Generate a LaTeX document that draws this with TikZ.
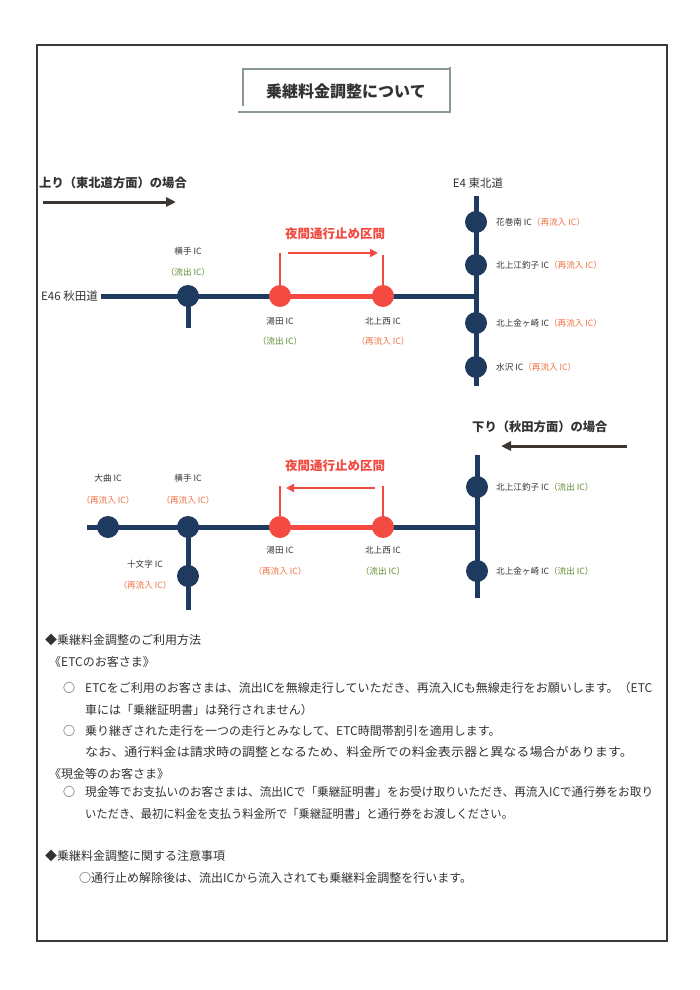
\documentclass[tikz,border=0pt]{standalone}
\usepackage{fontspec}
\usepackage{graphicx}
\usetikzlibrary{arrows.meta,backgrounds}
\newfontfamily\jp{Noto Sans CJK JP}
\definecolor{navy}{HTML}{1F3A5F}
\definecolor{redc}{HTML}{F34A42}
\definecolor{orangec}{HTML}{F0703F}
\definecolor{greenc}{HTML}{5B8C2A}
\definecolor{darkt}{HTML}{333333}
\definecolor{brownc}{HTML}{3B3632}
\definecolor{framec}{HTML}{3A3A3A}
\definecolor{titlec}{HTML}{8A9A90}
\begin{document}
\begin{tikzpicture}[x=1pt,y=-1pt,
  road/.style={line width=5pt, navy},
  redroad/.style={line width=5pt, redc},
  ic/.style={circle, fill=navy, minimum size=22pt, inner sep=0pt},
  icr/.style={circle, fill=redc, minimum size=22pt, inner sep=0pt},
  lbl/.style={font=\jp\fontsize{8.6}{10}\selectfont, text=darkt, inner sep=0pt},
  lblg/.style={lbl, text=greenc},
  lblo/.style={lbl, text=orangec},
  redtick/.style={line width=2.5pt, redc},
  redarrow/.style={line width=2.5pt, redc, -{Triangle[length=8pt,width=8pt]}},
  dirarrow/.style={line width=3pt, brownc, -{Triangle[length=10pt,width=9pt]}},
  head/.style={font=\jp\bfseries\fontsize{12.3}{14}\selectfont, text=darkt, inner sep=0pt},
  redhead/.style={font=\jp\bfseries\fontsize{12.5}{14}\selectfont, text=redc, inner sep=0pt},
  road label/.style={font=\jp\fontsize{11.5}{13}\selectfont, text=darkt, inner sep=0pt},
  body/.style={font=\jp\fontsize{12}{14}\selectfont, text=darkt, inner sep=0pt, anchor=west}
]
\useasboundingbox (0,0) rectangle (700,990);
\begin{pgfonlayer}{background}
\fill[white] (0,0) rectangle (700,990);
\end{pgfonlayer}
% frame
\draw[line width=2pt, framec] (37,45) rectangle (667,941);
% title
\draw[titlec, line width=1.5pt] (450,69) -- (243,69) -- (243,106);
\draw[titlec, line width=2.5pt] (450,67) -- (450,112) -- (238,112);
\node[font=\jp\bfseries\fontsize{16}{18}\selectfont, text=darkt] (title) at (346,91) {乗継料金調整について};

% ===== upper diagram =====
\node[head, anchor=west] (uphead) at (39,183) {上り（東北道方面）の場合};
\coordinate (ua1) at (43,202);
\coordinate (ua2) at (176,202);
\draw[dirarrow] (ua1) -- (ua2);

\coordinate (u_w) at (101,296);
\coordinate (u_j) at (476,296);
\coordinate (u_top) at (476,196);
\coordinate (u_bot) at (476,386);
\coordinate (u_ys) at (188,328);
\node[ic] (u_yokote) at (188,296) {};
\node[icr] (u_yuda) at (280,296) {};
\node[icr] (u_kn) at (383,296) {};
\node[ic] (u_hanamaki) at (476,222) {};
\node[ic] (u_esashi) at (476,265) {};
\node[ic] (u_kanegasaki) at (476,323) {};
\node[ic] (u_mizusawa) at (476,367) {};
\begin{pgfonlayer}{background}
\draw[road] (u_w) -- (u_yokote.center) -- (u_yuda.center);
\draw[road] (u_yokote.center) -- (u_ys);
\draw[redroad] (u_yuda.center) -- (u_kn.center);
\draw[road] (u_kn.center) -- (u_j);
\draw[road] (u_top) -- (u_bot);
\end{pgfonlayer}
\coordinate (u_t1) at (280,253);
\coordinate (u_t2) at (383,255);
\begin{pgfonlayer}{background}
\draw[redtick] (u_yuda.center) -- (u_t1);
\draw[redtick] (u_kn.center) -- (u_t2);
\end{pgfonlayer}
\coordinate (u_r1) at (288,253);
\coordinate (u_r2) at (378,253);
\draw[redarrow] (u_r1) -- (u_r2);
\node[redhead] (u_night) at (335,234) {夜間通行止め区間};

\node[road label] (u_e4) at (478,183) {E4 東北道};
\node[road label, anchor=east] (u_e46) at (98,296) {E46 秋田道};
\node[lbl] (u_l1) at (188,251) {横手 IC};
\node[lblg] (u_l1b) at (188,272) {（流出 IC）};
\node[lbl] (u_l2) at (280,321) {湯田 IC};
\node[lblg] (u_l2b) at (280,341) {（流出 IC）};
\node[lbl] (u_l3) at (383,321) {北上西 IC};
\node[lblo] (u_l3b) at (383,341) {（再流入 IC）};
\node[lbl, anchor=west] (u_r_1) at (496,222) {花巻南 IC\textcolor{orangec}{（再流入 IC）}};
\node[lbl, anchor=west] (u_r_2) at (496,265) {北上江釣子 IC\textcolor{orangec}{（再流入 IC）}};
\node[lbl, anchor=west] (u_r_3) at (496,323) {北上金ヶ崎 IC\textcolor{orangec}{（再流入 IC）}};
\node[lbl, anchor=west] (u_r_4) at (496,367) {水沢 IC\textcolor{orangec}{（再流入 IC）}};

% ===== lower diagram =====
\node[head, anchor=west] (dnhead) at (472,427) {下り（秋田方面）の場合};
\coordinate (da1) at (627,446);
\coordinate (da2) at (501,446);
\draw[dirarrow] (da1) -- (da2);

\coordinate (l_w) at (87,527);
\coordinate (l_j) at (477,527);
\coordinate (l_top) at (477,455);
\coordinate (l_bot) at (477,598);
\coordinate (l_ys) at (188,610);
\node[ic] (l_omagari) at (108,527) {};
\node[ic] (l_yokote) at (188,527) {};
\node[ic] (l_jumonji) at (188,576) {};
\node[icr] (l_yuda) at (280,527) {};
\node[icr] (l_kn) at (383,527) {};
\node[ic] (l_esashi) at (477,487) {};
\node[ic] (l_kanegasaki) at (477,571) {};
\begin{pgfonlayer}{background}
\draw[road] (l_w) -- (l_omagari.center) -- (l_yokote.center) -- (l_yuda.center);
\draw[road] (l_yokote.center) -- (l_jumonji.center) -- (l_ys);
\draw[redroad] (l_yuda.center) -- (l_kn.center);
\draw[road] (l_kn.center) -- (l_j);
\draw[road] (l_top) -- (l_bot);
\end{pgfonlayer}
\coordinate (l_t1) at (280,486);
\coordinate (l_t2) at (383,486);
\begin{pgfonlayer}{background}
\draw[redtick] (l_yuda.center) -- (l_t1);
\draw[redtick] (l_kn.center) -- (l_t2);
\end{pgfonlayer}
\coordinate (l_r1) at (375,488);
\coordinate (l_r2) at (286,488);
\draw[redarrow] (l_r1) -- (l_r2);
\node[redhead] (l_night) at (335,466) {夜間通行止め区間};

\node[lbl] (l_l1) at (108,478) {大曲 IC};
\node[lblo] (l_l1b) at (108,500) {（再流入 IC）};
\node[lbl] (l_l2) at (188,478) {横手 IC};
\node[lblo] (l_l2b) at (188,500) {（再流入 IC）};
\node[lbl] (l_l3) at (145,564) {十文字 IC};
\node[lblo] (l_l3b) at (145,585) {（再流入 IC）};
\node[lbl] (l_l4) at (280,550) {湯田 IC};
\node[lblo] (l_l4b) at (280,571) {（再流入 IC）};
\node[lbl] (l_l5) at (383,550) {北上西 IC};
\node[lblg] (l_l5b) at (383,571) {（流出 IC）};
\node[lbl, anchor=west] (l_r_1) at (496,487) {北上江釣子 IC\textcolor{greenc}{（流出 IC）}};
\node[lbl, anchor=west] (l_r_2) at (496,571) {北上金ヶ崎 IC\textcolor{greenc}{（流出 IC）}};

% ===== text =====
\node[body] (t1) at (45,640) {◆乗継料金調整のご利用方法};
\node[body] (t2) at (49,662) {《ETCのお客さま》};
\node[body] (t3o) at (63,688) {○};
\node[body] (t3) at (85,688) {ETCをご利用のお客さまは、流出ICを無線走行していただき、再流入ICも無線走行をお願いします。（ETC};
\node[body] (t4) at (85,710) {車には「乗継証明書」は発行されません）};
\node[body] (t5o) at (63,731) {○};
\node[body] (t5) at (85,731) {乗り継ぎされた走行を一つの走行とみなして、ETC時間帯割引を適用します。};
\node[body] (t6) at (85,752) {\scalebox{1.09}[1]{なお、通行料金は請求時の調整となるため、料金所での料金表示器と異なる場合があります。}};
\node[body] (t7) at (49,774) {《現金等のお客さま》};
\node[body] (t8o) at (63,792) {○};
\node[body] (t8) at (85,792) {\scalebox{0.97}[1]{現金等でお支払いのお客さまは、流出ICで「乗継証明書」をお受け取りいただき、再流入ICで通行券をお取り}};
\node[body] (t9) at (85,814) {\scalebox{0.94}[1]{いただき、最初に料金を支払う料金所で「乗継証明書」と通行券をお渡しください。}};
\node[body] (t10) at (45,856) {◆乗継料金調整に関する注意事項};
\node[body] (t11) at (79,878) {○通行止め解除後は、流出ICから流入されても乗継料金調整を行います。};
\end{tikzpicture}
\end{document}
